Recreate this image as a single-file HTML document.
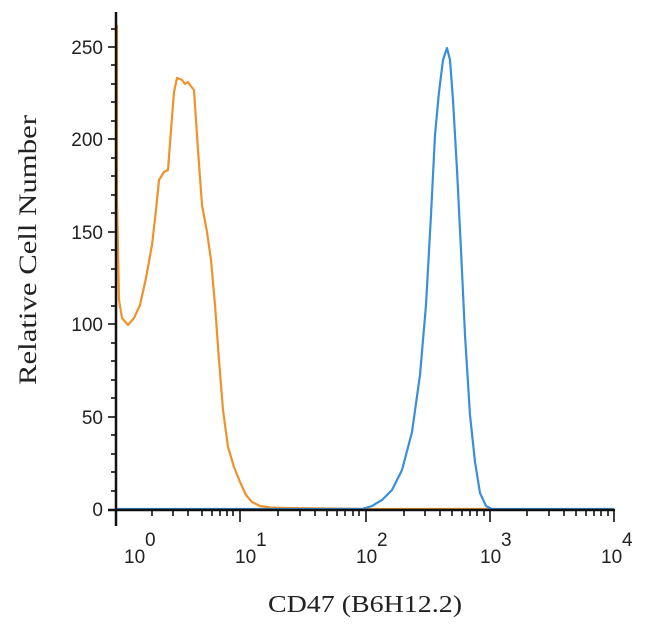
<!DOCTYPE html>
<html><head><meta charset="utf-8"><style>
body{margin:0;background:#fff;}
svg text{font-family:"Liberation Sans",sans-serif;fill:#222;}
</style></head><body>
<svg width="650" height="627" xmlns="http://www.w3.org/2000/svg">
<path d="M117,25 L117,200 L119,300 L122,318 L128,325 L134,318 L140,305 L146,278 L152,245 L156,210 L159,180 L164,172 L168,170 L171,130 L174,92 L177,78 L182,80 L185,84 L188,82 L190,85 L194,90 L198,150 L202,205 L207,232 L211,260 L215,305 L219,360 L223,410 L228,447 L234,467 L240,482 L246,495 L252,502 L260,506 L270,507.5 L285,508 L366,509 L490,509" fill="none" stroke="#ef922c" stroke-width="2.2" stroke-linejoin="round"/>
<path d="M116,509 L362,509 L372,506 L382,500 L392,490 L402,470 L412,432 L420,375 L426,305 L431,215 L435,135 L439,92 L443,60 L447,48 L450,60 L453,100 L457,170 L461,250 L465,335 L470,415 L475,462 L480,493 L486,506 L492,509 L614,509" fill="none" stroke="#3a8fdc" stroke-width="2.2" stroke-linejoin="round"/>
<line x1="116" y1="12" x2="116" y2="526" stroke="#111" stroke-width="2.5"/>
<line x1="108" y1="510" x2="615" y2="510" stroke="#111" stroke-width="2.5"/>
<g stroke="#111" stroke-width="1.6">
<line x1="108" y1="47" x2="116" y2="47"/><line x1="108" y1="139" x2="116" y2="139"/><line x1="108" y1="232" x2="116" y2="232"/><line x1="108" y1="324" x2="116" y2="324"/><line x1="108" y1="417" x2="116" y2="417"/>
<line x1="111" y1="29" x2="116" y2="29"/><line x1="111" y1="65" x2="116" y2="65"/><line x1="111" y1="84" x2="116" y2="84"/><line x1="111" y1="102" x2="116" y2="102"/><line x1="111" y1="121" x2="116" y2="121"/>
<line x1="111" y1="158" x2="116" y2="158"/><line x1="111" y1="176" x2="116" y2="176"/><line x1="111" y1="195" x2="116" y2="195"/><line x1="111" y1="213" x2="116" y2="213"/>
<line x1="111" y1="250" x2="116" y2="250"/><line x1="111" y1="269" x2="116" y2="269"/><line x1="111" y1="287" x2="116" y2="287"/><line x1="111" y1="306" x2="116" y2="306"/>
<line x1="111" y1="343" x2="116" y2="343"/><line x1="111" y1="361" x2="116" y2="361"/><line x1="111" y1="380" x2="116" y2="380"/><line x1="111" y1="398" x2="116" y2="398"/>
<line x1="111" y1="435" x2="116" y2="435"/><line x1="111" y1="454" x2="116" y2="454"/><line x1="111" y1="472" x2="116" y2="472"/><line x1="111" y1="491" x2="116" y2="491"/>
<line x1="152" y1="510" x2="152" y2="516"/><line x1="173" y1="510" x2="173" y2="516"/><line x1="188" y1="510" x2="188" y2="516"/><line x1="202" y1="510" x2="202" y2="516"/><line x1="212" y1="510" x2="212" y2="516"/><line x1="220" y1="510" x2="220" y2="516"/><line x1="227" y1="510" x2="227" y2="516"/><line x1="233" y1="510" x2="233" y2="516"/>
<line x1="240" y1="510" x2="240" y2="522"/><line x1="366" y1="510" x2="366" y2="522"/><line x1="490" y1="510" x2="490" y2="522"/><line x1="614" y1="510" x2="614" y2="522"/>
<line x1="278" y1="510" x2="278" y2="516"/><line x1="300" y1="510" x2="300" y2="516"/><line x1="315" y1="510" x2="315" y2="516"/><line x1="327" y1="510" x2="327" y2="516"/><line x1="337" y1="510" x2="337" y2="516"/><line x1="345" y1="510" x2="345" y2="516"/><line x1="353" y1="510" x2="353" y2="516"/><line x1="359" y1="510" x2="359" y2="516"/>
<line x1="404" y1="510" x2="404" y2="516"/><line x1="425" y1="510" x2="425" y2="516"/><line x1="440" y1="510" x2="440" y2="516"/><line x1="452" y1="510" x2="452" y2="516"/><line x1="462" y1="510" x2="462" y2="516"/><line x1="470" y1="510" x2="470" y2="516"/><line x1="477" y1="510" x2="477" y2="516"/><line x1="484" y1="510" x2="484" y2="516"/>
<line x1="527" y1="510" x2="527" y2="516"/><line x1="549" y1="510" x2="549" y2="516"/><line x1="564" y1="510" x2="564" y2="516"/><line x1="576" y1="510" x2="576" y2="516"/><line x1="586" y1="510" x2="586" y2="516"/><line x1="594" y1="510" x2="594" y2="516"/><line x1="601" y1="510" x2="601" y2="516"/><line x1="608" y1="510" x2="608" y2="516"/>
</g>
<g font-size="19" text-anchor="end">
<text x="103" y="54">250</text><text x="103" y="146">200</text><text x="103" y="239">150</text><text x="103" y="331">100</text><text x="103" y="424">50</text><text x="103" y="516">0</text>
</g>
<g font-size="19">
<text x="124" y="563">10</text><text x="145" y="546">0</text>
<text x="235" y="563">10</text><text x="256" y="546">1</text>
<text x="356" y="563">10</text><text x="377" y="546">2</text>
<text x="480" y="563">10</text><text x="501" y="546">3</text>
<text x="601" y="563">10</text><text x="622" y="546">4</text>
</g>
<text x="268" y="612" font-size="24" textLength="194" lengthAdjust="spacingAndGlyphs" style="font-family:'Liberation Serif',serif">CD47 (B6H12.2)</text>
<text transform="translate(36,385) rotate(-90)" font-size="25" textLength="270" lengthAdjust="spacingAndGlyphs" style="font-family:'Liberation Serif',serif">Relative Cell Number</text>
</svg>
</body></html>
